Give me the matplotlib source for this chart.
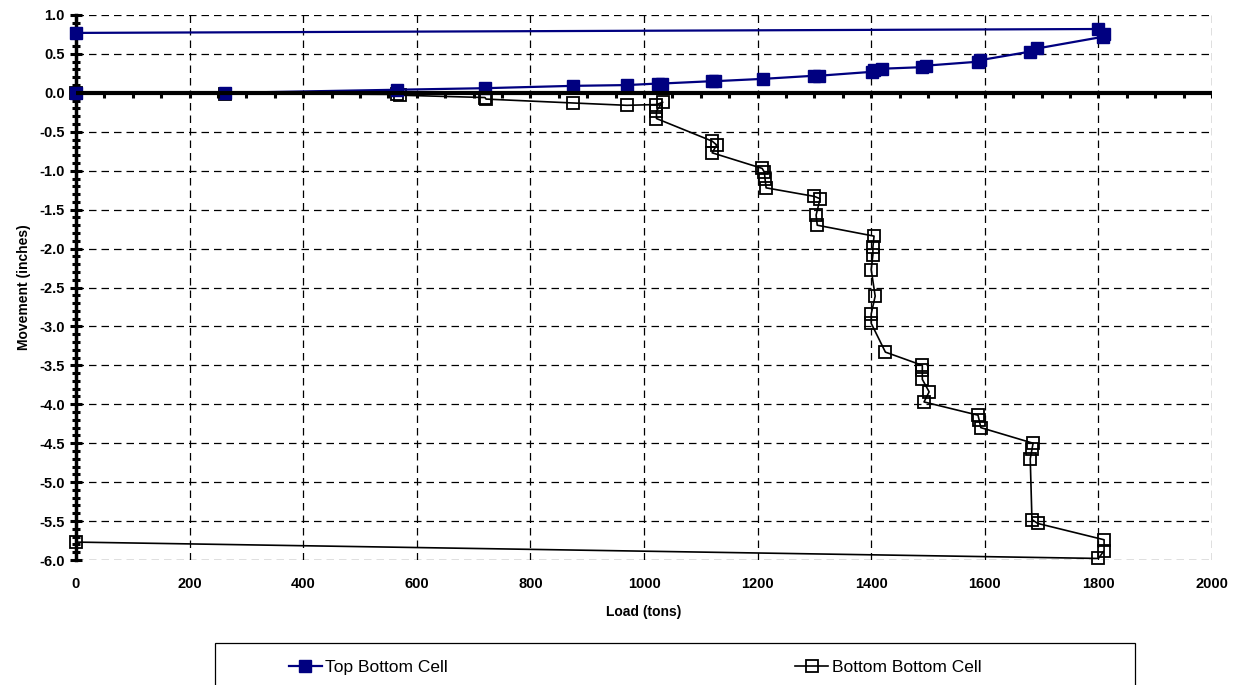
import numpy as np
import matplotlib
matplotlib.use("Agg")
import matplotlib.pyplot as plt
from matplotlib.ticker import MultipleLocator
from matplotlib.patches import Rectangle

plt.rcParams['font.family'] = ['Liberation Sans', 'DejaVu Sans']

# Top Bottom Cell (load in tons, movement in inches)
top_load = [0, 263, 565, 720, 875, 970, 1025, 1032, 1120, 1125, 1210, 1300, 1308,
            1401, 1405, 1419, 1490, 1497, 1588, 1592, 1680, 1692, 1808, 1810, 1799, 0]
top_move = [0.00, 0.00, 0.04, 0.06, 0.09, 0.10, 0.12, 0.12, 0.15, 0.15, 0.18, 0.22, 0.22,
            0.27, 0.29, 0.31, 0.33, 0.35, 0.40, 0.42, 0.53, 0.57, 0.72, 0.76, 0.82, 0.77]

# Bottom Bottom Cell
bot_load = [0, 263, 565, 570, 720, 722, 875, 970, 1022, 1033, 1022, 1022,
            1120, 1128, 1120, 1208, 1212, 1213, 1215, 1300, 1310, 1303, 1305,
            1405, 1403, 1403, 1400, 1407, 1400, 1400, 1425,
            1490, 1490, 1490, 1502, 1493, 1588, 1590, 1593,
            1685, 1683, 1680, 1683, 1693, 1810, 1810, 1800, 0]
bot_move = [0.00, -0.01, -0.02, -0.03, -0.06, -0.08, -0.13, -0.16, -0.15, -0.12, -0.23, -0.33,
            -0.62, -0.67, -0.77, -0.97, -1.02, -1.10, -1.22, -1.33, -1.36, -1.57, -1.70,
            -1.84, -1.98, -2.08, -2.27, -2.61, -2.84, -2.96, -3.33,
            -3.50, -3.56, -3.68, -3.84, -3.97, -4.14, -4.20, -4.30,
            -4.50, -4.58, -4.70, -5.48, -5.53, -5.74, -5.88, -5.98, -5.77]

x_labels = ["0", "200", "400", "600", "800", "1000", "1200", "1400", "1600", "1800", "2000"]

W, H = 1240, 685
fig = plt.figure(figsize=(W / 100, H / 100), dpi=100)
ax = fig.add_axes([76 / W, 1 - 560 / H, 1136 / W, 545 / H])

ax.plot(top_load, top_move, color='#000080', lw=1.6, marker='s', ms=8,
        mfc='#000080', mec='#000080', label='Top Bottom Cell', zorder=4, clip_on=False)
ax.plot(bot_load, bot_move, color='black', lw=1.2, marker='s', ms=8,
        mfc='none', mec='black', mew=1.3, label='Bottom Bottom Cell', zorder=3, clip_on=False)

ax.set_xlim(0, 2000)
ax.set_ylim(-6.0, 1.0)

# grid
ax.grid(True, which='major', color='black', ls=(0, (6, 4)), lw=0.9)
ax.set_axisbelow(True)

for s in ['top', 'right', 'bottom']:
    ax.spines[s].set_visible(False)
ax.spines['left'].set_linewidth(2.5)

# horizontal axis crossing at zero, with tick marks
ax.axhline(0, color='black', lw=3, zorder=5)
ax.xaxis.set_major_locator(MultipleLocator(200))
ax.tick_params(axis='x', which='both', length=0, labelbottom=False)
ax.vlines(np.arange(50, 2001, 50), -0.07, 0, color='black', lw=2.2, zorder=5)

sec = ax.secondary_xaxis('bottom')
sec.set_xticks(np.arange(0, 2001, 200))
sec.set_xticklabels(x_labels)
sec.spines['bottom'].set_visible(False)
sec.tick_params(length=0, pad=12, labelsize=10.5)
for t in sec.get_xticklabels():
    t.set_fontweight('bold')

ax.yaxis.set_minor_locator(MultipleLocator(0.1))
ax.tick_params(axis='y', which='major', direction='inout', length=8, width=2.2,
               labelsize=10.5, pad=4)
ax.tick_params(axis='y', which='minor', direction='inout', length=6, width=2.2)
ax.set_yticks(np.arange(-6.0, 1.01, 0.5))
ax.set_yticklabels([f"{v:.1f}" for v in np.arange(-6.0, 1.01, 0.5)])
for t in ax.get_yticklabels():
    t.set_fontweight('bold')

ax.set_ylabel('Movement (inches)', fontsize=10, fontweight='bold', labelpad=6)
sec.set_xlabel('Load (tons)', fontsize=10, fontweight='bold', labelpad=10)

# legend box
fig.patches.append(Rectangle((215 / W, -0.02), 920 / W, (H - 643) / H + 0.02,
                             transform=fig.transFigure, fill=False,
                             edgecolor='black', lw=0.9))
leg = fig.legend(loc='center left', ncol=2, bbox_to_anchor=(289 / W, 1 - 667 / H),
                 frameon=False, fontsize=12.5, handlelength=1.9, handletextpad=0.2,
                 columnspacing=20.0, borderaxespad=0, borderpad=0)

fig.savefig('out.png', dpi=100)
